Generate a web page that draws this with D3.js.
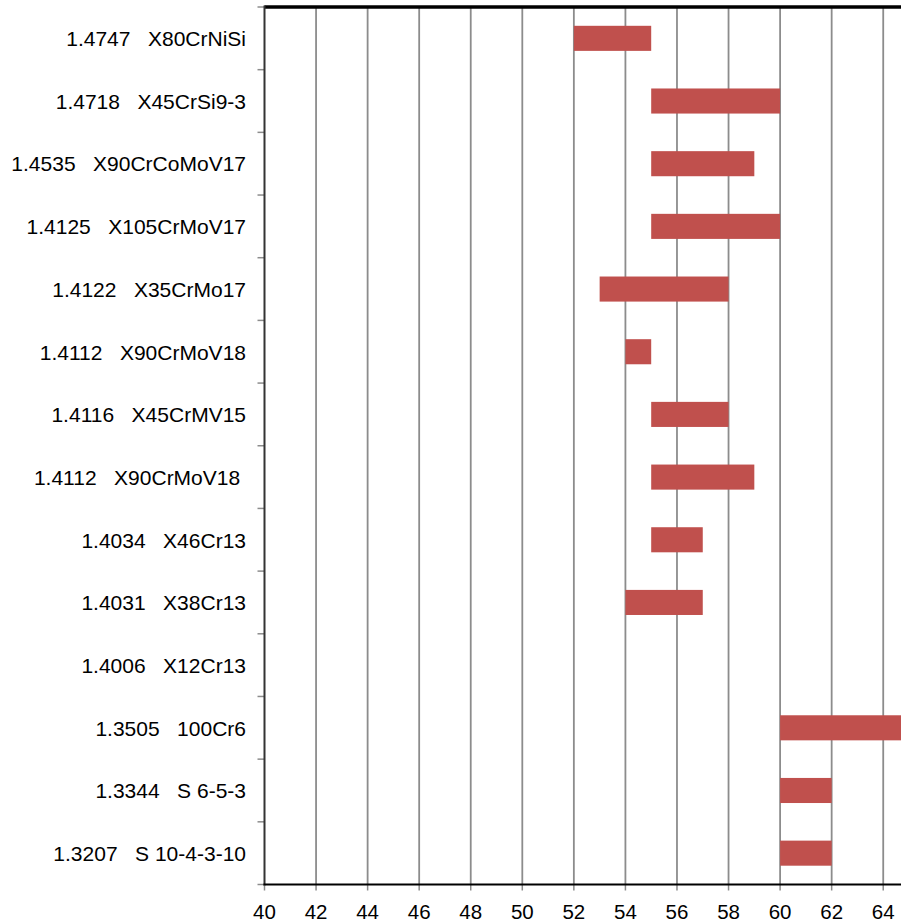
<!DOCTYPE html>
<html>
<head>
<meta charset="utf-8">
<script src="https://cdn.jsdelivr.net/npm/d3@7"></script>
<style>
  html, body { margin: 0; padding: 0; background: #fff; overflow: hidden; }
  svg { display: block; }
  text { font-family: "Liberation Sans", Arial, sans-serif; fill: #000; white-space: pre; }
</style>
</head>
<body>
<script>
// ---- data ----
const codes  = ["1.4747", "1.4718", "1.4535", "1.4125", "1.4122", "1.4112", "1.4116", "1.4112", "1.4034", "1.4031", "1.4006", "1.3505", "1.3344", "1.3207"];
const grades = ["X80CrNiSi", "X45CrSi9-3", "X90CrCoMoV17", "X105CrMoV17", "X35CrMo17", "X90CrMoV18", "X45CrMV15", "X90CrMoV18 ", "X46Cr13", "X38Cr13", "X12Cr13", "100Cr6", "S 6-5-3", "S 10-4-3-10"];
const hardMin = [52, 55, 55, 55, 53, 54, 55, 55, 55, 54, null, 60, 60, 60];
const hardMax = [55, 60, 59, 60, 58, 55, 58, 59, 57, 57, null, 65, 62, 62];
const xTicks  = [40, 42, 44, 46, 48, 50, 52, 54, 56, 58, 60, 62, 64];

const W = 901, H = 924;
const plotLeft = 264.5, plotTop = 7, plotBottom = 884.5;
const pxPerUnit = 25.78;

const svg = d3.select("body").append("svg").attr("width", W).attr("height", H);

const x = d3.scaleLinear().domain([40, 66]).range([plotLeft, plotLeft + 26 * pxPerUnit]);
const idx = codes.map((d, i) => i);
const y = d3.scaleBand().domain(idx).range([plotTop, plotBottom]).paddingInner(0.6).paddingOuter(0.3);
const yEdge = d3.scaleLinear().domain([0, codes.length]).range([plotTop, plotBottom]);

// gridlines
svg.append("g").selectAll("line").data(xTicks.slice(1)).join("line")
  .attr("x1", d => x(d)).attr("x2", d => x(d))
  .attr("y1", plotTop).attr("y2", plotBottom)
  .attr("stroke", "#8c8c8c").attr("stroke-width", 1.8);

// bars
const barData = idx.filter(i => hardMin[i] != null);
svg.append("g").selectAll("rect").data(barData).join("rect")
  .attr("x", i => x(hardMin[i]))
  .attr("width", i => x(hardMax[i]) - x(hardMin[i]))
  .attr("y", i => y(i))
  .attr("height", y.bandwidth())
  .attr("fill", "#C0504D");

// top border
svg.append("line")
  .attr("x1", plotLeft).attr("x2", W + 5).attr("y1", plotTop).attr("y2", plotTop)
  .attr("stroke", "#000").attr("stroke-width", 3.5);

// left axis ticks (category boundaries)
svg.append("g").selectAll("line").data(d3.range(codes.length + 1)).join("line")
  .attr("x1", plotLeft - 7).attr("x2", plotLeft)
  .attr("y1", d => yEdge(d)).attr("y2", d => yEdge(d))
  .attr("stroke", "#8c8c8c").attr("stroke-width", 1.5);

// left axis line
svg.append("line")
  .attr("x1", plotLeft).attr("x2", plotLeft).attr("y1", plotTop - 1.5).attr("y2", plotBottom + 1)
  .attr("stroke", "#333").attr("stroke-width", 2);

// bottom ticks
svg.append("g").selectAll("line").data(xTicks).join("line")
  .attr("x1", d => x(d)).attr("x2", d => x(d))
  .attr("y1", plotBottom).attr("y2", plotBottom + 6)
  .attr("stroke", "#8c8c8c").attr("stroke-width", 1.5);

// bottom axis line
svg.append("line")
  .attr("x1", plotLeft - 1).attr("x2", W + 5).attr("y1", plotBottom).attr("y2", plotBottom)
  .attr("stroke", "#000").attr("stroke-width", 2.2);

// x tick labels
svg.append("g").selectAll("text").data(xTicks).join("text")
  .attr("x", d => x(d)).attr("y", 919)
  .attr("text-anchor", "middle")
  .style("font-size", "20.5px")
  .text(d => d);

// category labels
svg.append("g").selectAll("text").data(idx).join("text")
  .attr("x", 246)
  .attr("y", i => y(i) + y.bandwidth() / 2 + 7.8)
  .attr("text-anchor", "end")
  .style("font-size", "21px")
  .attr("xml:space", "preserve")
  .text(i => codes[i] + "   " + grades[i]);
</script>
</body>
</html>
